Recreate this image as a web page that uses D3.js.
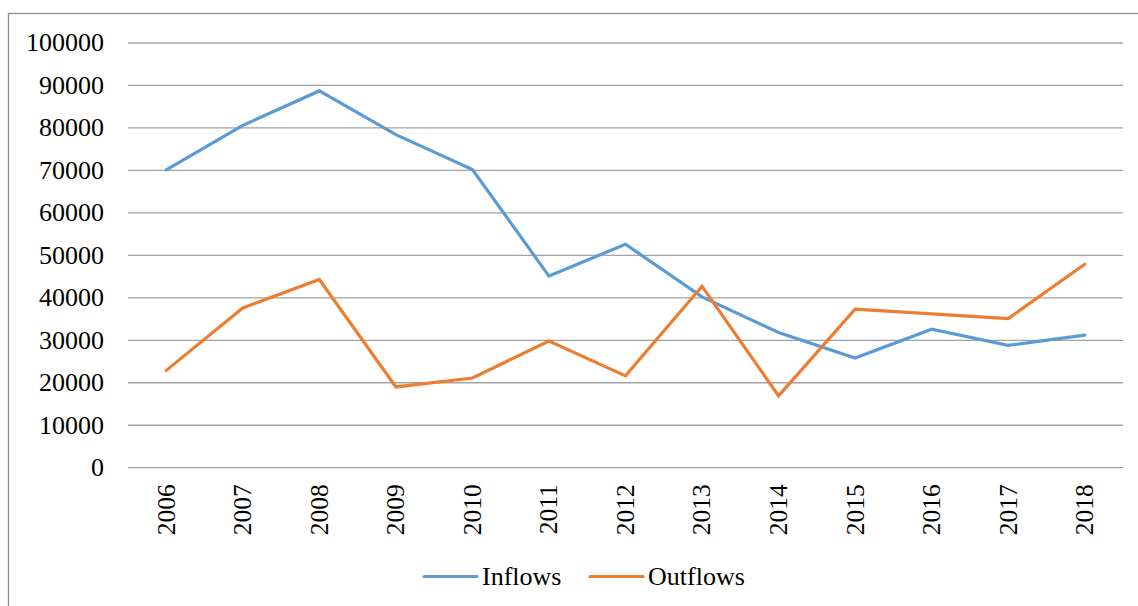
<!DOCTYPE html>
<html>
<head>
<meta charset="utf-8">
<script src="https://cdn.jsdelivr.net/npm/d3@7"></script>
<style>
  html, body { margin: 0; padding: 0; background: #fff; }
  svg, svg text { font-family: "Liberation Serif", "Times New Roman", serif !important; }
</style>
</head>
<body>
<svg id="chart" width="1138" height="606"></svg>
<script>
// Annual flows, 2006–2018
const years = ["2006","2007","2008","2009","2010","2011","2012","2013","2014","2015","2016","2017","2018"];
const inflows  = [70000, 80500, 88600, 78300, 70100, 45000, 52500, 40100, 31700, 25700, 32500, 28700, 31100];
const outflows = [22800, 37500, 44200, 18900, 21000, 29700, 21500, 42600, 16800, 37200, 36100, 35000, 47800];
const yTicks = [0, 10000, 20000, 30000, 40000, 50000, 60000, 70000, 80000, 90000, 100000];
const seriesNames = ["Inflows", "Outflows"];
const seriesColors = ["#5B9BD5", "#ED7D31"];

const svg = d3.select("#chart");
const W = 1138, H = 606;
const plot = { left: 128, right: 1123, top: 42.5, bottom: 467.2 };
const serif = "'Liberation Serif', 'Times New Roman', serif";

// Outer chart frame
svg.append("rect")
  .attr("x", 8.5).attr("y", 13.5)
  .attr("width", W + 10).attr("height", H + 10)
  .attr("fill", "none").attr("stroke", "#8f8f8f").attr("stroke-width", 1.3);

const x = d3.scaleBand().domain(years).range([plot.left, plot.right]).padding(0);
const y = d3.scaleLinear().domain([0, 100000]).range([plot.bottom, plot.top]);

// Horizontal gridlines with value labels
const yAxis = d3.axisLeft(y).tickValues(yTicks).tickSize(-(plot.right - plot.left)).tickPadding(24).tickFormat(d3.format("d"));
const gy = svg.append("g").attr("transform", `translate(${plot.left},0)`).call(yAxis)
  .attr("font-family", serif).attr("font-size", 26);
gy.select(".domain").remove();
gy.selectAll(".tick line").attr("stroke", "#a3a3a3").attr("stroke-width", 1.3);
gy.selectAll(".tick text")
  .attr("fill", "#000")
  .style("font-family", serif).style("font-size", "26px");

// Category labels, rotated
const xAxis = d3.axisBottom(x).tickSize(0).tickPadding(0);
const gx = svg.append("g").attr("transform", `translate(0,${plot.bottom})`).call(xAxis)
  .attr("font-family", serif).attr("font-size", 25.5);
gx.select(".domain").remove();
gx.selectAll(".tick text")
  .attr("fill", "#000")
  .style("font-family", serif).style("font-size", "25.5px")
  .attr("text-anchor", "end")
  .attr("transform", "rotate(-90)")
  .attr("x", -17).attr("y", 0).attr("dy", "0.33em");

// Series lines
const line = d3.line()
  .x((d, i) => x(years[i]) + x.bandwidth() / 2)
  .y(d => y(d));

[inflows, outflows].forEach((vals, k) => {
  svg.append("path")
    .datum(vals)
    .attr("fill", "none")
    .attr("stroke", seriesColors[k])
    .attr("stroke-width", 3.2)
    .attr("stroke-linejoin", "miter")
    .attr("stroke-linecap", "round")
    .attr("d", line);
});

// Legend
const legendItems = [
  { name: seriesNames[0], color: seriesColors[0], x0: 424 },
  { name: seriesNames[1], color: seriesColors[1], x0: 590 }
];
const lg = svg.append("g");
legendItems.forEach(it => {
  lg.append("line")
    .attr("x1", it.x0).attr("x2", it.x0 + 53)
    .attr("y1", 576.5).attr("y2", 576.5)
    .attr("stroke", it.color).attr("stroke-width", 3.2).attr("stroke-linecap", "round");
  lg.append("text")
    .attr("x", it.x0 + 58).attr("y", 585)
    .style("font-size", "26px").attr("fill", "#000")
    .text(it.name);
});
</script>
</body>
</html>
